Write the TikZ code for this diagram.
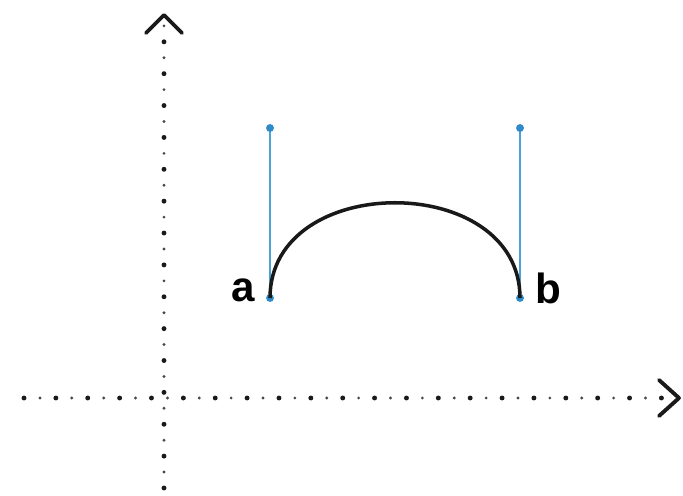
\documentclass[tikz,border=0pt]{standalone}
\usepackage{fontspec}
\setmainfont{Liberation Sans}
\usetikzlibrary{arrows.meta}
\usepackage{xcolor}
\definecolor{chandle}{HTML}{4AA3D6}
\definecolor{cdot}   {HTML}{2E8BC8}
\definecolor{caxis}  {HTML}{1A1A1A}

\begin{document}
\begin{tikzpicture}[
  x=0.02cm, y=-0.02cm,
  axis/.style   = {caxis, line width=2.8pt, line cap=round,
                   dash pattern=on 0pt off 18.14pt},
  axis2/.style  = {caxis!80, line width=1.8pt, line cap=round,
                   dash pattern=on 0pt off 18.14pt, dash phase=9.07pt},
  tip/.style    = {caxis, line width=2.2pt, line cap=round, line join=round},
  handle/.style = {chandle, line width=1.1pt},
  hdot/.style   = {circle, fill=cdot, inner sep=0pt, minimum size=4.5pt},
  curve/.style  = {black!90, line width=2pt},
  lbl/.style    = {font=\fontsize{24}{28}\selectfont\bfseries, inner sep=0pt}
]
\useasboundingbox (0,0) rectangle (683,496);

%% ── Points ────────────────────────────────────────────────────────────────
\coordinate (o)  at (164, 398);
\coordinate (pa) at (270, 298);
\coordinate (pb) at (520, 298);
\coordinate (ha) at (270, 128);
\coordinate (hb) at (520, 128);
\coordinate (ca) at (270, 171);
\coordinate (cb) at (520, 171);

%% ── Axes ──────────────────────────────────────────────────────────────────
\coordinate (xs) at (24, 398);
\coordinate (xe) at (672, 398);
\coordinate (ys) at (164, 488);
\coordinate (ye) at (164, 24);
\draw[axis]  (xs) -- (xe);
\draw[axis2] (xs) -- (xe);
\draw[axis]  (ys) -- (ye);
\draw[axis2] (ys) -- (ye);
% chevron tips
\draw[tip] (659, 380) -- (679, 398) -- (659, 416);
\draw[tip] (146, 33) -- (164, 15) -- (182, 33);

%% ── Handles ───────────────────────────────────────────────────────────────
\draw[handle] (pa) -- (ha);
\draw[handle] (pb) -- (hb);
\node[hdot] (da)  at (pa) {};
\node[hdot] (dha) at (ha) {};
\node[hdot] (db)  at (pb) {};
\node[hdot] (dhb) at (hb) {};

%% ── Curve ─────────────────────────────────────────────────────────────────
\draw[curve] (pa) .. controls (ca) and (cb) .. (pb);

%% ── Labels ────────────────────────────────────────────────────────────────
\node[lbl] (a) at (243, 290) {a};
\node[lbl] (b) at (548, 288) {b};

\end{tikzpicture}
\end{document}
